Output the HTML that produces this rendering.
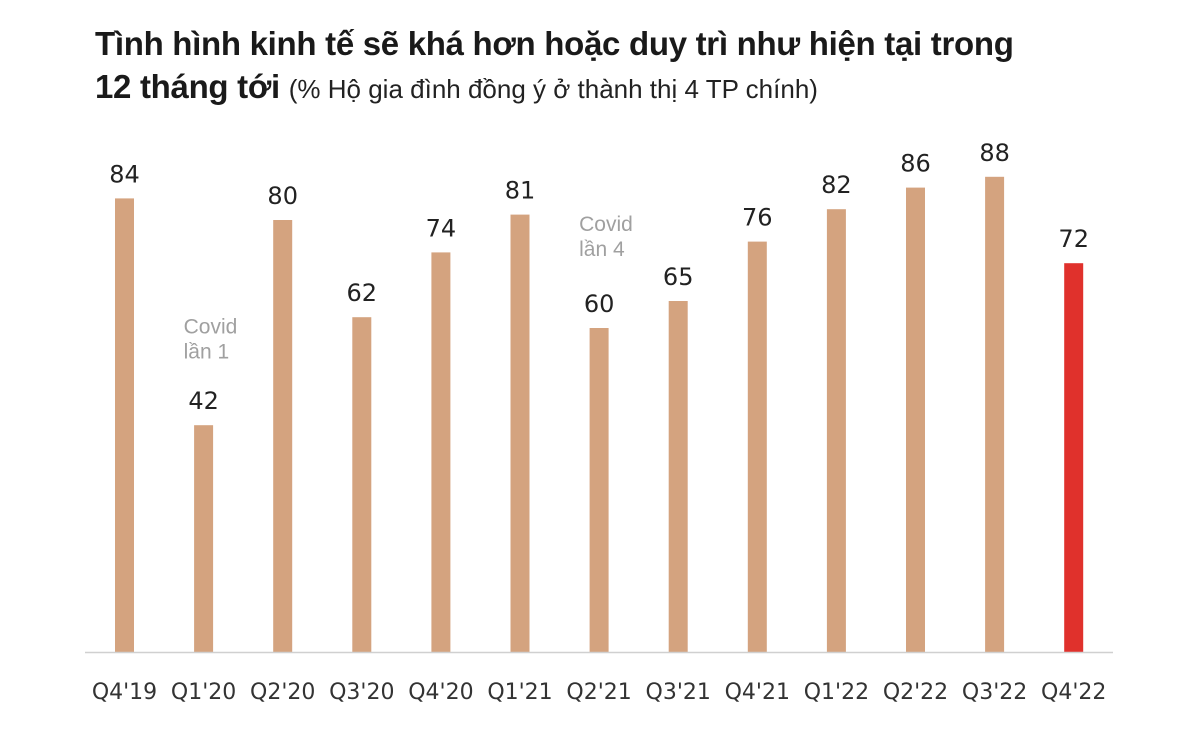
<!DOCTYPE html>
<html><head><meta charset="utf-8"><style>
body{margin:0;background:#fff;width:1200px;height:740px;overflow:hidden;font-family:"Liberation Sans",sans-serif}
.t{position:absolute;left:95px;font-weight:bold;font-size:33px;color:#1a1a1a;white-space:nowrap;letter-spacing:-0.3px}
.s{font-weight:normal;font-size:26px;color:#222;letter-spacing:0}
</style></head><body>
<div class="t" style="top:25px">Tình hình kinh tế sẽ khá hơn hoặc duy trì như hiện tại trong</div>
<div class="t" style="top:68px">12 tháng tới <span class="s">(% Hộ gia đình đồng ý ở thành thị 4 TP chính)</span></div>
<svg id="c" width="1200" height="740" style="position:absolute;left:0;top:0"></svg>
<script>
const categories=["Q4'19","Q1'20","Q2'20","Q3'20","Q4'20","Q1'21","Q2'21","Q3'21","Q4'21","Q1'22","Q2'22","Q3'22","Q4'22"];
const values=[84,42,80,62,74,81,60,65,76,82,86,88,72];
const highlight=[false,false,false,false,false,false,false,false,false,false,false,false,true];
const notes=[{i:1,lines:["Covid","lần 1"],v:59},{i:6,lines:["Covid","lần 4"],v:78}];
const ns="http://www.w3.org/2000/svg",svg=document.getElementById('c');
const base=652,k=5.4,x0=124.5,dx=79.1,bw=19;
const xs=i=>x0+i*dx, ys=v=>base-v*k;
function mk(t,a){const e=document.createElementNS(ns,t);for(const q in a)e.setAttribute(q,a[q]);svg.appendChild(e);return e;}
categories.forEach((c,i)=>{
 const r=mk('rect',{x:xs(i)-bw/2,y:ys(values[i]),width:bw,height:values[i]*k,fill:highlight[i]?'#E0312C':'#D4A37F'});
 
 
 const l=mk('text',{x:xs(i),y:ys(values[i])-16,'text-anchor':'middle','font-size':24,fill:'#222','font-family':'DejaVu Sans, Liberation Sans, sans-serif'});
 l.textContent=values[i];
 
 
 const t=mk('text',{x:xs(i),y:699,'text-anchor':'middle','font-size':22,fill:'#333','font-family':'DejaVu Sans, Liberation Sans, sans-serif'});
 t.textContent=c;
 
 
});
const ax=mk('line',{x1:85,x2:1113,y1:base+0.5,y2:base+0.5,stroke:'#d0d0d0','stroke-width':1.5});


notes.forEach(n=>{n.lines.forEach((s,j)=>{
 const t=mk('text',{x:xs(n.i)-20,y:ys(n.v)+j*25,'font-size':21,fill:'#a0a0a0'});
 t.textContent=s;
 
 
});});
</script>
</body></html>
